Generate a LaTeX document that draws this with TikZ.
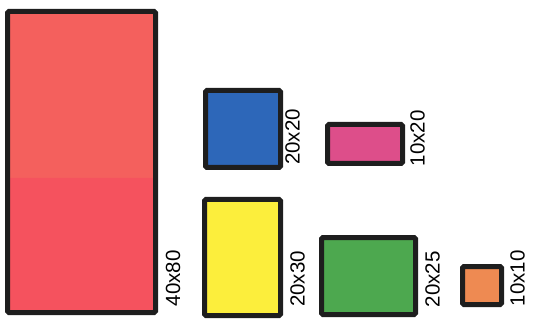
\documentclass[tikz,border=0pt]{standalone}
\usepackage{fontspec}
\setmainfont{Liberation Sans}
\definecolor{edge}{HTML}{1E1E1E}
\definecolor{redtop}{HTML}{F4605D}
\definecolor{redbot}{HTML}{F5525E}
\definecolor{blueF}{HTML}{2D67B9}
\definecolor{pinkF}{HTML}{DD4E8A}
\definecolor{yellowF}{HTML}{FCEE3C}
\definecolor{greenF}{HTML}{4DA84F}
\definecolor{orangeF}{HTML}{EE8A52}
\begin{document}
\begin{tikzpicture}[x=1pt,y=-1pt,
  box/.style={draw=edge, line width=5pt, rounded corners=1.5pt, inner sep=0pt, outer sep=0pt},
  dimlabel/.style={rotate=90, anchor=north west, inner sep=0pt, font=\fontsize{20.5}{22}\selectfont}]
\useasboundingbox (0,0) rectangle (534,328);
% boxes: outer edges given; minimum size = outer size - line width
\node[box, fill=redtop, minimum width=148pt, minimum height=301pt,
  path picture={\fill[redbot] (path picture bounding box.south west) rectangle ([yshift=-16pt]path picture bounding box.east);}]
  (r) at (81.5,162) {};
\node[box, fill=blueF, minimum width=75pt, minimum height=77pt] (b) at (243,129) {};
\node[box, fill=pinkF, minimum width=75pt, minimum height=39pt] (p) at (365,144) {};
\node[box, fill=yellowF, minimum width=76pt, minimum height=116pt] (y) at (242.5,257.5) {};
\node[box, fill=greenF, minimum width=94pt, minimum height=77pt] (g) at (368.5,276) {};
\node[box, fill=orangeF, minimum width=39pt, minimum height=38pt] (o) at (482,285.5) {};
% labels
\node[dimlabel] (lr) at (165.5,306.5) {40x80};
\node[dimlabel] (lb) at (285,165) {20x20};
\node[dimlabel] (lp) at (410,166.5) {10x20};
\node[dimlabel] (ly) at (290,307) {20x30};
\node[dimlabel] (lg) at (425,307.5) {20x25};
\node[dimlabel] (lo) at (510,306.5) {10x10};
\end{tikzpicture}
\end{document}
